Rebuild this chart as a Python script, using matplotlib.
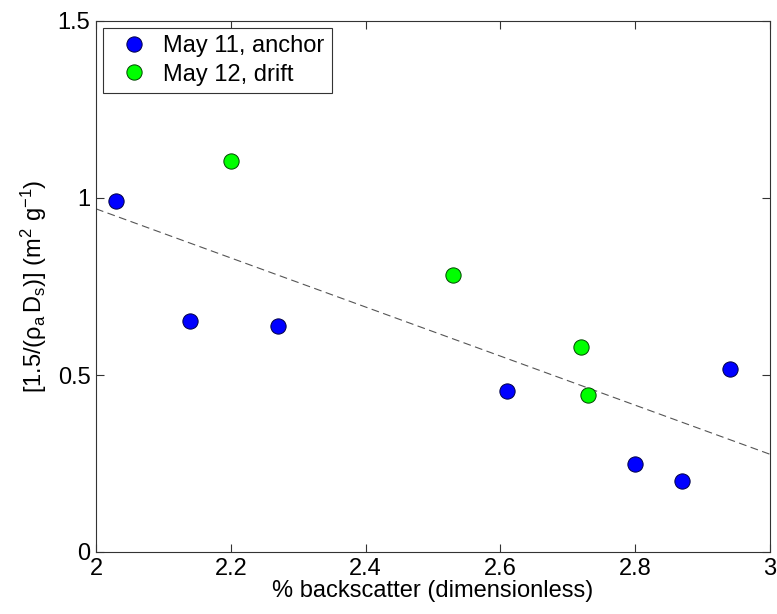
import matplotlib
matplotlib.use('Agg')
import matplotlib.pyplot as plt
import numpy as np

plt.rcParams['font.family'] = ['Liberation Sans', 'DejaVu Sans']
plt.rcParams['mathtext.fontset'] = 'custom'
plt.rcParams['mathtext.rm'] = 'Liberation Sans'
plt.rcParams['mathtext.it'] = 'Liberation Sans'
plt.rcParams['mathtext.default'] = 'regular'

# May 11, anchor
x_anchor = [2.03, 2.14, 2.27, 2.61, 2.80, 2.87, 2.94]
y_anchor = [0.992, 0.653, 0.639, 0.456, 0.249, 0.200, 0.516]
# May 12, drift
x_drift = [2.20, 2.53, 2.72, 2.73]
y_drift = [1.105, 0.782, 0.579, 0.443]

# linear fit through all points
xa = np.array(x_anchor + x_drift)
ya = np.array(y_anchor + y_drift)
p = np.polyfit(xa, ya, 1)
xf = np.array([2, 3])

fig = plt.figure(figsize=(7.77, 6.14), dpi=100)
ax = fig.add_axes([96/777, 62/614, 674/777, 531/614])
for s in ax.spines.values():
    s.set_color('#333333')
    s.set_linewidth(0.8)

ax.plot(xf, np.polyval(p, xf), '--', color='#555555', lw=0.8, dashes=(7, 4))
ax.plot(x_anchor, y_anchor, 'o', color='#0000ff', mec='#000044', mew=0.7,
        ms=11, label='May 11, anchor')
ax.plot(x_drift, y_drift, 'o', color='#00ff00', mec='#004400', mew=0.7,
        ms=11, label='May 12, drift')

ax.set_xlim(2, 3)
ax.set_ylim(0, 1.5)
ax.set_xticks([2, 2.2, 2.4, 2.6, 2.8, 3])
ax.set_xticklabels(['2', '2.2', '2.4', '2.6', '2.8', '3'])
ax.set_yticks([0, 0.5, 1, 1.5])
ax.set_yticklabels(['0', '0.5', '1', '1.5'])
ax.tick_params(direction='in', top=True, right=True, labelsize=17, length=6,
               width=0.8, color='#333333', pad=4)

ax.set_xlabel('% backscatter (dimensionless)', fontsize=17, labelpad=0)
ax.set_ylabel(r'[1.5/($\rho_a\,$D$_s$)] (m$^2$ g$^{-1}$)', fontsize=17, labelpad=6)

leg = ax.legend(loc='upper left', fontsize=17, frameon=True, fancybox=False,
                edgecolor='#333333', handletextpad=0.25, borderpad=0.3,
                labelspacing=0.27, numpoints=1, borderaxespad=0.3,
                framealpha=1)
leg.get_frame().set_linewidth(0.8)

fig.savefig('out.png', dpi=100)
